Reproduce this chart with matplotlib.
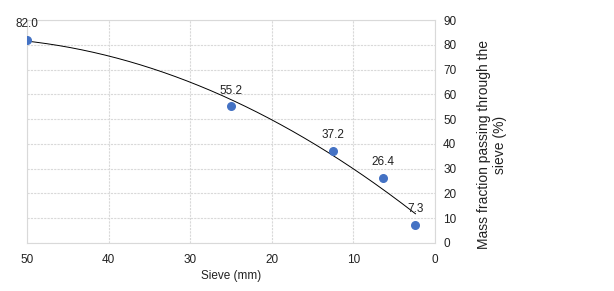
import matplotlib
matplotlib.use("Agg")
import matplotlib.pyplot as plt
import numpy as np

plt.rcParams['font.family'] = ['Liberation Sans', 'DejaVu Sans']

# sieve sizes (mm) and passing fraction (%)
sieve = [50, 25, 12.5, 6.3, 2.36]
passing = [82.0, 55.2, 37.2, 26.4, 7.3]
point_labels = ["82.0", "55.2", "37.2", "26.4", "7.3"]
x_ticks = [50, 40, 30, 20, 10, 0]
y_ticks = [0, 10, 20, 30, 40, 50, 60, 70, 80, 90]

fig = plt.figure(figsize=(6.14, 2.91), dpi=100)
ax = fig.add_axes([0.044, 0.165, 0.664, 0.766])

# polynomial trendline (order 2), like the spreadsheet one
coef = np.polyfit(sieve, passing, 2)
xs = np.linspace(min(sieve), max(sieve), 200)
ax.plot(xs, np.polyval(coef, xs), color='black', lw=0.7, zorder=2)

ax.scatter(sieve, passing, s=30, color='#4472C4', zorder=3)
for x, y, t in zip(sieve, passing, point_labels):
    ax.annotate(t, (x, y), xytext=(0, 7), textcoords='offset points',
                ha='center', va='bottom', fontsize=8.5, color='#222222')

ax.set_xlim(50, 0)
ax.set_ylim(0, 90)
ax.set_xticks(x_ticks)
ax.set_yticks(y_ticks)
ax.yaxis.tick_right()
ax.yaxis.set_label_position('right')
ax.tick_params(length=0, labelsize=8.5, colors='#222222', pad=6)
ax.tick_params(axis='x', pad=8)

ax.grid(True, color='#d9d9d9', lw=0.8, ls=(0, (2, 1)))
ax.set_axisbelow(True)
for s in ax.spines.values():
    s.set_color('#d9d9d9')
    s.set_linewidth(0.8)

ax.set_xlabel('Sieve (mm)', fontsize=8.5, color='#222222', labelpad=3)
ax.set_ylabel('Mass fraction passing through the\nsieve (%)', fontsize=10,
              color='#222222', labelpad=15, rotation=90, linespacing=1.15,
              y=0.44)

fig.savefig('out.png', dpi=100)
